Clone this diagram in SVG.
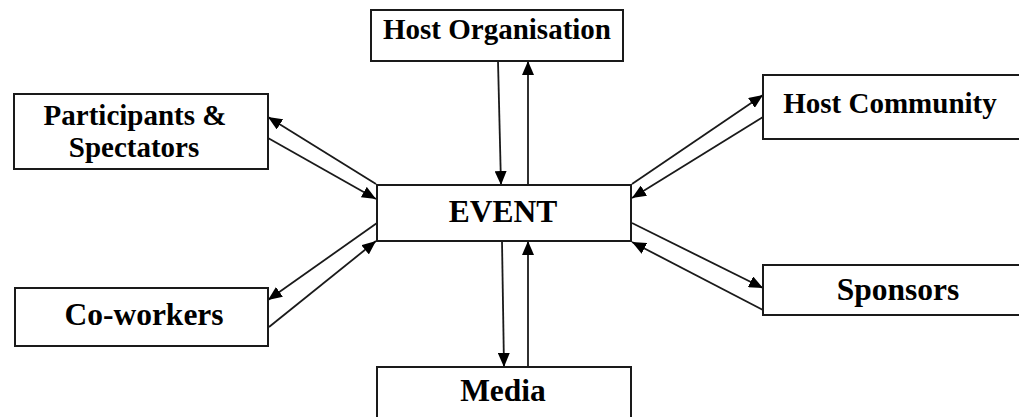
<svg xmlns="http://www.w3.org/2000/svg" width="1019" height="417" viewBox="0 0 1019 417">
  <style>
    .box { fill: #ffffff; stroke: #1a1a1a; stroke-width: 2; }
    .lbl { font-family: "Liberation Serif", "Times New Roman", serif; font-weight: bold; fill: #000000; text-anchor: middle; }
    .s29 { font-size: 29px; }
    .s31 { font-size: 31.5px; }
    .link { stroke: #1a1a1a; stroke-width: 1.8; fill: none; marker-end: url(#head); }
  </style>
  <defs>
    <marker id="head" markerUnits="userSpaceOnUse" markerWidth="14" markerHeight="12" refX="14" refY="6" orient="auto">
      <path d="M0,0 L14,6 L0,12 Z" fill="#000000"/>
    </marker>
  </defs>
  <rect width="1019" height="417" fill="#ffffff"/>

  <g id="connectors">
    <!-- Host Organisation <-> EVENT -->
    <line class="link" x1="498" y1="61" x2="501" y2="185"/>
    <line class="link" x1="528" y1="185" x2="528" y2="61"/>
    <!-- EVENT <-> Media -->
    <line class="link" x1="502" y1="241" x2="504" y2="367"/>
    <line class="link" x1="528" y1="367" x2="528" y2="241"/>
    <!-- Participants & Spectators <-> EVENT -->
    <line class="link" x1="376" y1="184" x2="268" y2="117"/>
    <line class="link" x1="268" y1="138" x2="376" y2="199"/>
    <!-- Co-workers <-> EVENT -->
    <line class="link" x1="377" y1="223" x2="268" y2="300"/>
    <line class="link" x1="269" y1="327" x2="376" y2="241"/>
    <!-- Host Community <-> EVENT -->
    <line class="link" x1="632" y1="184" x2="763" y2="95"/>
    <line class="link" x1="763" y1="117" x2="632" y2="198"/>
    <!-- Sponsors <-> EVENT -->
    <line class="link" x1="632" y1="223" x2="763" y2="288"/>
    <line class="link" x1="763" y1="310" x2="632" y2="242"/>
  </g>

  <g id="event">
    <rect class="box" x="377" y="185" width="254" height="56"/>
    <text class="lbl s31" x="503" y="222">EVENT</text>
  </g>
  <g id="host-organisation">
    <rect class="box" x="371" y="10" width="252" height="51"/>
    <text class="lbl s29" x="497" y="39">Host Organisation</text>
  </g>
  <g id="participants-spectators">
    <rect class="box" x="14" y="94" width="254" height="75"/>
    <text class="lbl s29" x="135" y="125">Participants &amp;</text>
    <text class="lbl s29" x="134" y="157">Spectators</text>
  </g>
  <g id="host-community">
    <rect class="box" x="763" y="75" width="258" height="64"/>
    <text class="lbl s29" x="890" y="113">Host Community</text>
  </g>
  <g id="co-workers">
    <rect class="box" x="15" y="288" width="253" height="58"/>
    <text class="lbl s31" x="144" y="325">Co-workers</text>
  </g>
  <g id="sponsors">
    <rect class="box" x="763" y="265" width="258" height="50"/>
    <text class="lbl s31" x="898" y="300">Sponsors</text>
  </g>
  <g id="media">
    <rect class="box" x="377" y="367" width="254" height="60"/>
    <text class="lbl s31" x="503" y="401">Media</text>
  </g>
</svg>
